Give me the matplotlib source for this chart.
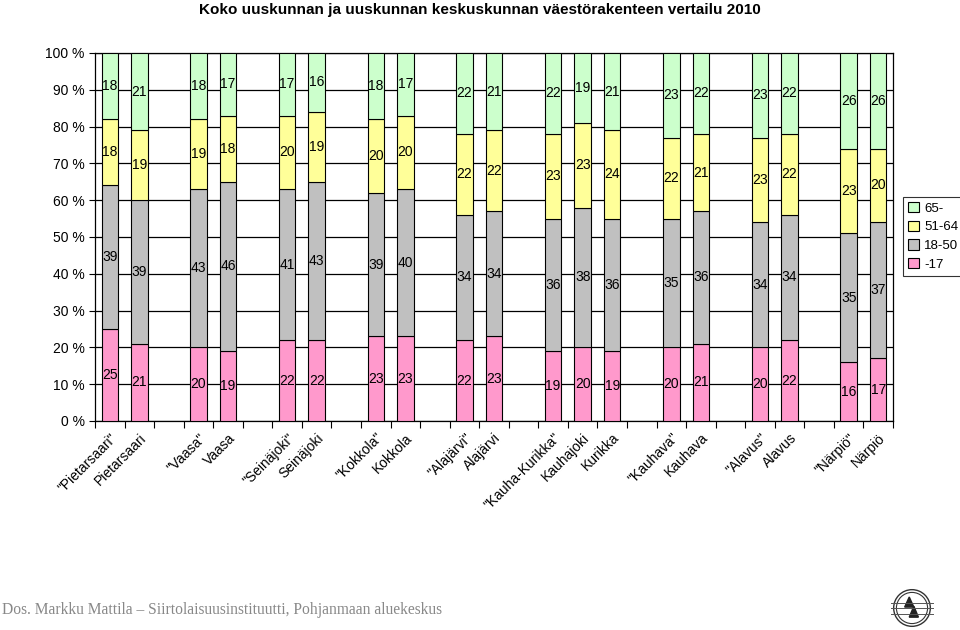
import matplotlib
matplotlib.use("Agg")
import matplotlib.pyplot as plt
import numpy as np
from matplotlib.patches import Patch, Circle, Polygon

plt.rcParams['font.family'] = ['Liberation Sans', 'DejaVu Sans']

categories = ['"Pietarsaari"', 'Pietarsaari', '', '"Vaasa"', 'Vaasa', '',
              '"Seinäjoki"', 'Seinäjoki', '', '"Kokkola"', 'Kokkola', '',
              '"Alajärvi"', 'Alajärvi', '', '"Kauha-Kurikka"', 'Kauhajoki', 'Kurikka', '',
              '"Kauhava"', 'Kauhava', '', '"Alavus"', 'Alavus', '', '"Närpiö"', 'Närpiö']

age_0_17 = [25, 21, None, 20, 19, None, 22, 22, None, 23, 23, None, 22, 23, None,
            19, 20, 19, None, 20, 21, None, 20, 22, None, 16, 17]
age_18_50 = [39, 39, None, 43, 46, None, 41, 43, None, 39, 40, None, 34, 34, None,
             36, 38, 36, None, 35, 36, None, 34, 34, None, 35, 37]
age_51_64 = [18, 19, None, 19, 18, None, 20, 19, None, 20, 20, None, 22, 22, None,
             23, 23, 24, None, 22, 21, None, 23, 22, None, 23, 20]
age_65 = [18, 21, None, 18, 17, None, 17, 16, None, 18, 17, None, 22, 21, None,
          22, 19, 21, None, 23, 22, None, 23, 22, None, 26, 26]

series = [('-17', age_0_17, '#FF99CC'), ('18-50', age_18_50, '#C0C0C0'),
          ('51-64', age_51_64, '#FFFF99'), ('65-', age_65, '#CCFFCC')]

fig = plt.figure(figsize=(9.6, 6.3), dpi=100)
ax = fig.add_axes([95/960, 1-421/630, (893-95)/960, (421-53)/630])

n = len(categories)
x = np.arange(n)
valid = [v is not None for v in age_0_17]
xs = x[valid]
tot = np.array([sum(s[1][i] for s in series) for i in range(n) if valid[i]], float)
bottom = np.zeros(len(xs))
handles = []
for name, vals, col in series:
    v = np.array([vals[i] for i in range(n) if valid[i]], float)
    pct = v / tot * 100
    ax.bar(xs, pct, bottom=bottom, width=0.56, color=col, edgecolor='black',
           linewidth=0.8, zorder=3)
    for xi, b, p, lab in zip(xs, bottom, pct, v):
        ax.text(xi, b + p/2, f'{int(lab)}', ha='center', va='center',
                fontsize=10, zorder=4)
    bottom += pct
    handles.append(Patch(facecolor=col, edgecolor='black', linewidth=0.8, label=name))

ax.set_xlim(-0.5, n-0.5)
ax.set_ylim(0, 100)
ax.set_yticks(np.arange(0, 101, 10))
ax.set_yticklabels([f'{t} %' for t in range(0, 101, 10)], fontsize=10)
ax.yaxis.grid(True, color='black', linewidth=0.9, zorder=0)
ax.set_axisbelow(True)
ax.tick_params(axis='y', length=4, width=0.8, direction='out')

ax.set_xticks(np.arange(-0.5, n, 1.0))
ax.set_xticklabels([])
ax.tick_params(axis='x', which='major', length=5, width=0.8, direction='out')
ax.set_xticks(x, minor=True)
ax.set_xticklabels(categories, minor=True, rotation=45, ha='right', va='top',
                   rotation_mode='anchor', fontsize=10)
ax.tick_params(axis='x', which='minor', length=0, pad=7)

for sp in ax.spines.values():
    sp.set_color('black')
    sp.set_linewidth(0.9)

leg = fig.legend(handles=handles[::-1], loc='upper left',
                 bbox_to_anchor=(903/960, 1-197/630), fontsize=9.5,
                 frameon=True, fancybox=False, edgecolor='black',
                 handlelength=0.8, handleheight=0.8, handletextpad=0.4,
                 borderpad=0.4, labelspacing=0.45, borderaxespad=0)
leg.get_frame().set_linewidth(0.8)

fig.text(0.5, 1-10/630, 'Koko uuskunnan ja uuskunnan keskuskunnan väestörakenteen vertailu 2010',
         ha='center', va='center', fontsize=11, fontweight='bold')

fig.text(2/960, 1-610/630, 'Dos. Markku Mattila – Siirtolaisuusinstituutti, Pohjanmaan aluekeskus',
         ha='left', va='center', fontsize=11.2, color='#888888',
         family=['Liberation Serif', 'DejaVu Serif'])

# small emblem bottom right
lax = fig.add_axes([890/960, 1-630/630, 44/960, 44/630])
lax.set_xlim(-1.2, 1.2)
lax.set_ylim(-1.2, 1.2)
lax.set_aspect('equal')
lax.axis('off')
lax.add_patch(Circle((0, 0), 1.0, fill=False, lw=1.0, ec='#333333'))
lax.add_patch(Circle((0, 0), 0.85, fill=False, lw=0.8, ec='#333333'))
for yy in (-0.3, 0.0, 0.3):
    lax.plot([-1.15, 1.15], [yy, yy], color='#555555', lw=0.7)
lax.add_patch(Polygon([[-0.4, 0.05], [-0.15, 0.6], [0.1, 0.05]], color='#222222'))
lax.add_patch(Polygon([[-0.15, -0.5], [0.1, 0.1], [0.35, -0.5]], color='#222222'))

fig.savefig('out.png', dpi=100)
